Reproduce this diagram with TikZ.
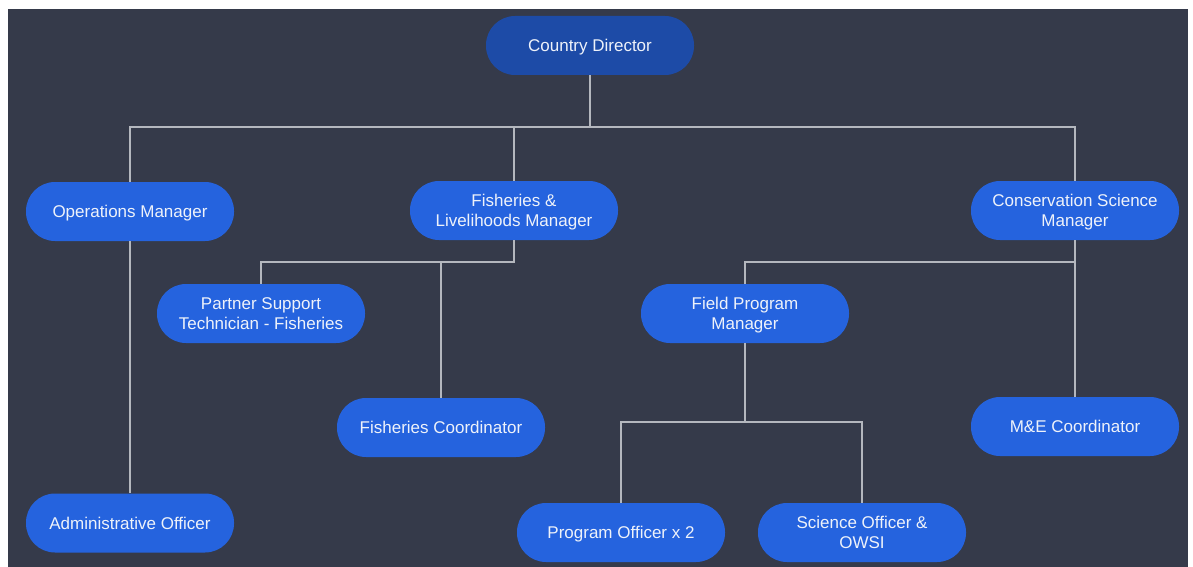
\documentclass[tikz,border=0pt]{standalone}
\usepackage{fontspec}
\setmainfont{Liberation Sans}
\definecolor{canvas}{HTML}{353A4A}
\definecolor{topfill}{HTML}{1D4BA7}
\definecolor{rolefill}{HTML}{2563DE}
\definecolor{linkgray}{HTML}{B4B7BE}
\definecolor{labelwhite}{HTML}{EEF2FA}
\begin{document}
\begin{tikzpicture}[x=1pt,y=-1pt,
  role/.style={fill=rolefill, rounded corners=29pt, minimum width=208pt,
    minimum height=59pt, inner sep=0pt, align=center, text=labelwhite,
    text depth=0pt, font=\fontsize{17}{20.5}\selectfont},
  link/.style={draw=linkgray, line width=1.6pt}]
  % page and dark canvas
  \fill[white] (0,0) rectangle (1193,567);
  \fill[canvas] (8,9) rectangle (1188,567);
  \useasboundingbox (0,0) rectangle (1193,567);

  % roles
  \node[role, fill=topfill] (cd) at (590,45.5) {Country Director};
  \node[role] (om)  at (130,211.5)  {Operations Manager};
  \node[role] (flm) at (514,210.5)  {Fisheries \&\\Livelihoods Manager};
  \node[role] (csm) at (1075,210.5) {Conservation Science\\Manager};
  \node[role] (pst) at (261,313.5)  {Partner Support\\Technician - Fisheries};
  \node[role] (fpm) at (745,313.5)  {Field Program\\Manager};
  \node[role] (fc)  at (441,427.5)  {Fisheries Coordinator};
  \node[role] (me)  at (1075,426.5) {M\&E Coordinator};
  \node[role] (adm) at (130,523)    {Administrative Officer};
  \node[role] (po)  at (621,532.5)  {Program Officer x 2};
  \node[role] (so)  at (862,532.5)  {Science Officer \&\\OWSI};

  % bus junctions
  \coordinate (busTop) at (590,127);
  \coordinate (busF)   at (514,262);
  \coordinate (busC)   at (1075,262);
  \coordinate (busP)   at (745,422);

  % reporting lines
  \draw[link] (cd.south) -- (busTop);
  \draw[link] (om.north) |- (busTop) -| (csm.north);
  \draw[link] (flm.north) -- (flm.north |- busTop);

  \draw[link] (om.south) -- (adm.north);

  \draw[link] (flm.south) -- (busF) -| (pst.north);
  \draw[link] (fc.north) -- (fc.north |- busF);

  \draw[link] (csm.south) -- (me.north);
  \draw[link] (busC) -| (fpm.north);

  \draw[link] (fpm.south) -- (busP);
  \draw[link] (po.north) |- (busP) -| (so.north);
\end{tikzpicture}
\end{document}
